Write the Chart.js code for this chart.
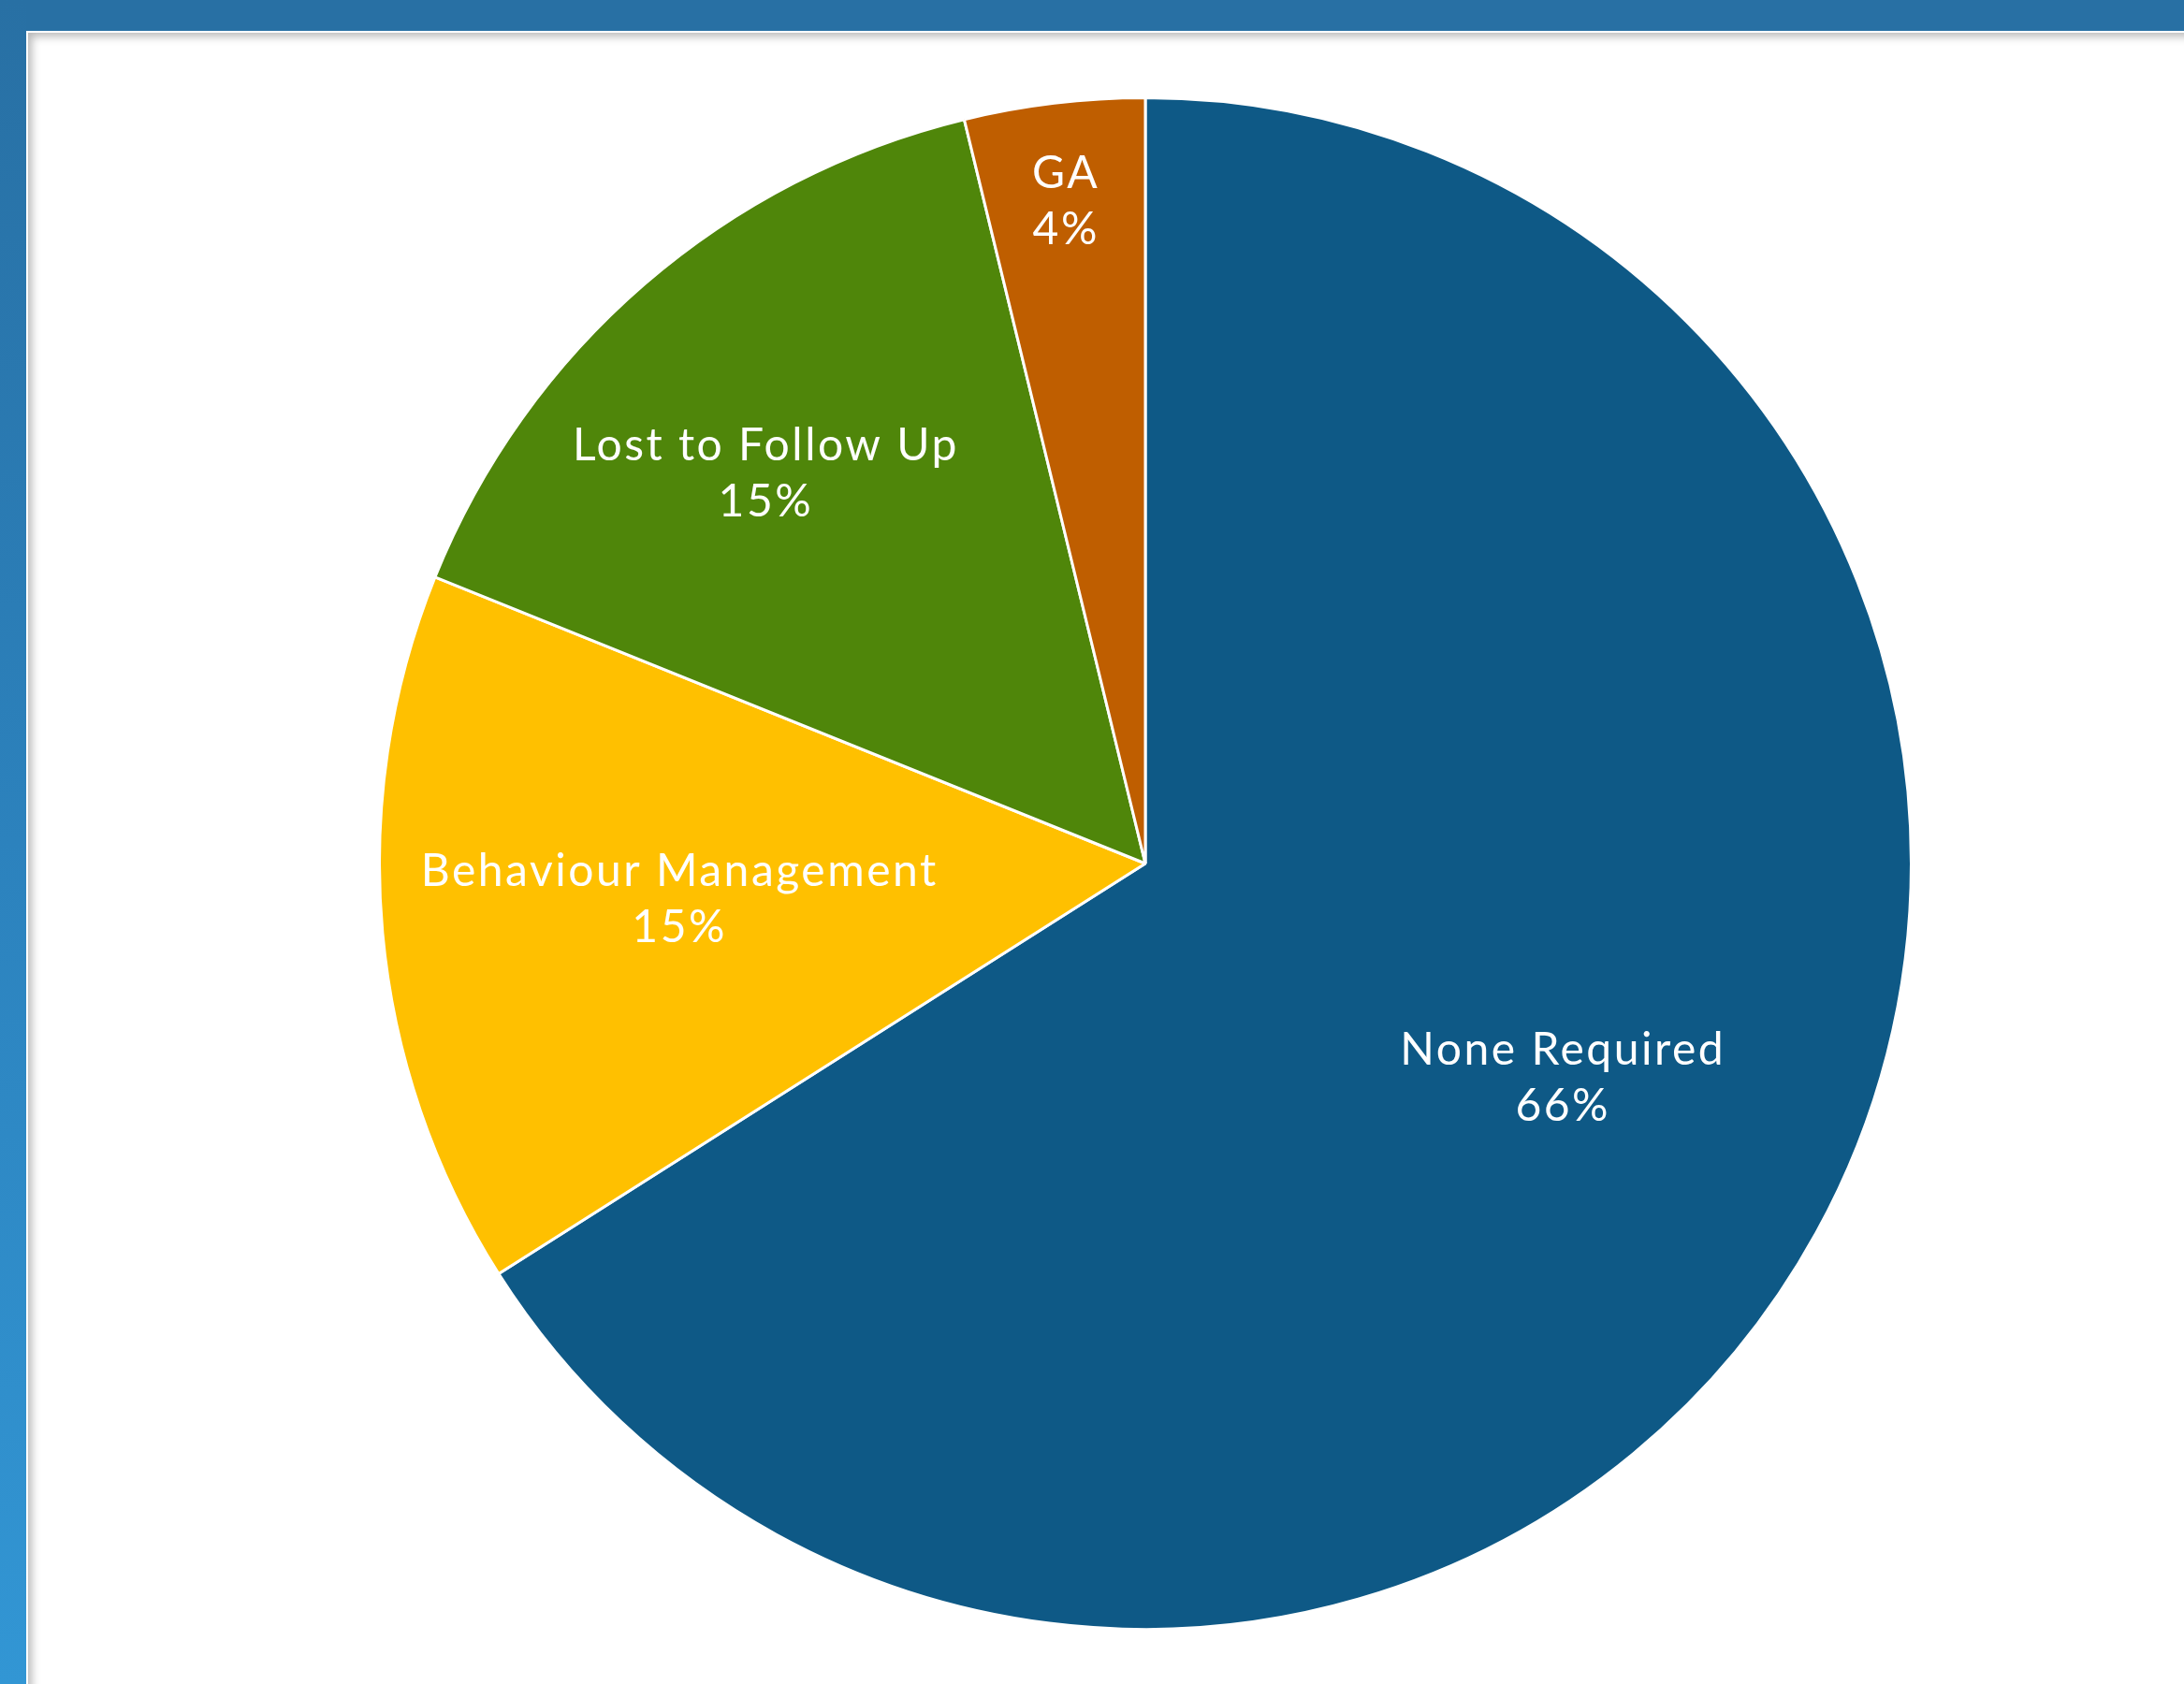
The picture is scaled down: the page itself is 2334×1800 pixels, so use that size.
<!DOCTYPE html>
<html>
<head>
<meta charset="utf-8">
<title>Treatment outcome</title>
<script src="https://cdn.jsdelivr.net/npm/chart.js@4.4.0/dist/chart.umd.min.js"></script>
<style>
  html, body { margin:0; padding:0; }
  body { width:2334px; height:1800px; position:relative; overflow:hidden; background:#fff; }
  /* slide frame */
  .topBand { position:absolute; left:0; top:0; width:2334px; height:33px; background:#2870a4; }
  .leftBand { position:absolute; left:0; top:0; width:28px; height:1800px;
    background:linear-gradient(to bottom, #2870a4 0%, #2c82bd 50%, #3296d4 100%); }
  .panel { position:absolute; left:28px; top:33px; right:0; bottom:0; background:#fff;
    border-left:2px solid #fff; border-top:2px solid #fff;
    box-shadow: inset 8px 8px 10px -4px rgba(0,0,0,0.28); }
  #wrap { position:absolute; left:404px; top:103px; width:1640px; height:1640px; }
</style>
</head>
<body>
<div class="topBand"></div>
<div class="leftBand"></div>
<div class="panel"></div>
<div id="wrap"><canvas id="pieChart"></canvas></div>

<script>
/* =======================
   DATA
======================= */
const categories = ['None Required', 'Behaviour Management', 'Lost to Follow Up', 'GA'];
const shares = [66.0, 15.1, 15.1, 3.8];
const sliceColors = ['#0e5986', '#ffc000', '#4f860a', '#bf5e00'];

// label placement: distance from centre (fraction of radius) and small angle nudge (deg)
const labelRadius = [0.613, 0.61, 0.71, 0.87];
const labelNudge = [-1.6, 0.8, -3.4, 0];

// Draw "category \n percent" labels inside each slice
const sliceLabels = {
  id: 'sliceLabels',
  afterDatasetsDraw(chart){
    const ctx = chart.ctx;
    const meta = chart.getDatasetMeta(0);
    const data = chart.data.datasets[0].data;
    const total = data.reduce((a,b)=>a+b,0);
    ctx.save();
    ctx.fillStyle = '#ffffff';
    ctx.font = '48px "Lato", "DejaVu Sans", sans-serif';
    ctx.letterSpacing = '2.5px';
    ctx.textAlign = 'center';
    ctx.textBaseline = 'middle';
    meta.data.forEach((arc, i) => {
      const p = arc.getProps(['x','y','startAngle','endAngle','outerRadius'], true);
      const mid = (p.startAngle + p.endAngle) / 2 + labelNudge[i] * Math.PI / 180;
      const r = p.outerRadius * labelRadius[i];
      const x = p.x + Math.cos(mid) * r;
      const y = p.y + Math.sin(mid) * r;
      const pct = Math.round(data[i] / total * 100) + '%';
      ctx.fillText(chart.data.labels[i], x, y - 30);
      ctx.fillText(pct, x, y + 30);
    });
    ctx.restore();
  }
};

const ctx = document.getElementById('pieChart').getContext('2d');
window.pieChart = new Chart(ctx, {
  type: 'pie',
  data: {
    labels: categories,
    datasets: [{
      data: shares,
      backgroundColor: sliceColors,
      borderColor: '#ffffff',
      borderWidth: 3,
      hoverOffset: 0
    }]
  },
  options: {
    responsive: true,
    maintainAspectRatio: false,
    animation: false,
    layout: { padding: 0 },
    plugins: {
      legend: { display: false },
      tooltip: { enabled: false }
    }
  },
  plugins: [sliceLabels]
});
</script>
</body>
</html>
